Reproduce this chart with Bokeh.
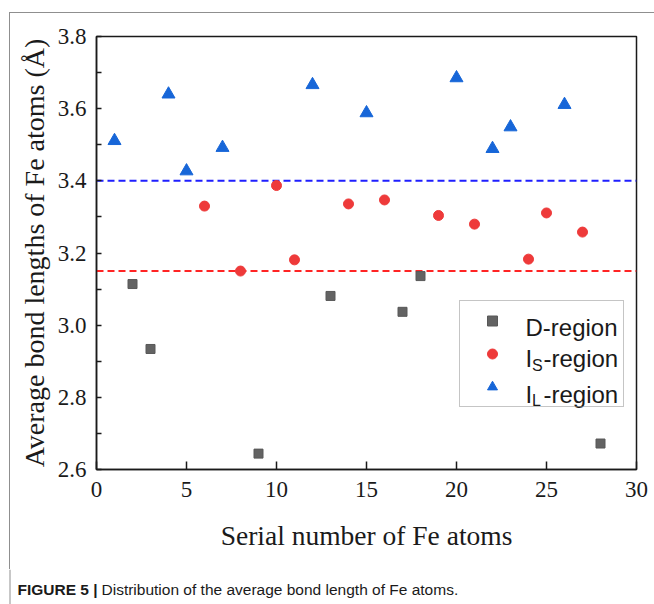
from bokeh.plotting import figure
from bokeh.layouts import column
from bokeh.models import (Span, Legend, LegendItem, Label, FixedTicker,
                          PrintfTickFormatter, Range1d)
from bokeh.core.properties import value
from bokeh.embed import file_html
from bokeh.resources import INLINE

# Average Fe bond lengths (Å) indexed by the serial number of each Fe atom
d_serial = [2, 3, 9, 13, 17, 18, 28]
d_length = [3.114, 2.934, 2.644, 3.081, 3.037, 3.136, 2.672]

is_serial = [6, 8, 10, 11, 14, 16, 19, 21, 24, 25, 27]
is_length = [3.330, 3.150, 3.387, 3.181, 3.336, 3.347, 3.304, 3.280, 3.183, 3.311, 3.258]

il_serial = [1, 4, 5, 7, 12, 15, 20, 22, 23, 26]
il_length = [3.511, 3.640, 3.427, 3.492, 3.666, 3.588, 3.685, 3.489, 3.549, 3.611]

# Region boundaries
is_threshold = 3.15
il_threshold = 3.40

x_ticks = [0, 5, 10, 15, 20, 25, 30]
y_ticks = [2.6, 2.8, 3.0, 3.2, 3.4, 3.6, 3.8]
y_minor = [2.7, 2.9, 3.1, 3.3, 3.5, 3.7]

SERIF = "Liberation Serif"
SANS = "Liberation Sans"
INK = "#1a1a1a"
RULE = "#8f8f8f"

# ---------------------------------------------------------------- chart
p = figure(frame_width=540, frame_height=433,
           min_border_left=96, min_border_right=18,
           min_border_top=36, min_border_bottom=100,
           x_range=Range1d(0, 30), y_range=Range1d(2.6, 3.8),
           output_backend="svg", toolbar_location=None,
           background_fill_color="white", border_fill_color=None)

# thin page rule along the top and left edges
p.styles = {
    "background-image": f"linear-gradient({RULE}, {RULE}), linear-gradient({RULE}, {RULE})",
    "background-position": "9px 12px, 9px 12px",
    "background-size": "1px 100%, 100% 1px",
    "background-repeat": "no-repeat",
    "background-color": "white",
}

p.grid.visible = False
p.outline_line_color = INK
p.outline_line_width = 1.5
p.outline_line_alpha = 1.0

p.xaxis.ticker = FixedTicker(ticks=x_ticks)
p.yaxis.ticker = FixedTicker(ticks=y_ticks, minor_ticks=y_minor)
p.yaxis.formatter = PrintfTickFormatter(format="%.1f")
p.xaxis.axis_label = "Serial number of Fe atoms"
p.yaxis.axis_label = "Average bond lengths of Fe atoms (Å)"

for ax in (p.xaxis[0], p.yaxis[0]):
    ax.axis_line_color = INK
    ax.axis_line_width = 1.5
    ax.major_tick_line_color = INK
    ax.major_tick_line_width = 1.5
    ax.minor_tick_line_color = INK
    ax.minor_tick_line_width = 1.5
    ax.major_tick_out = 0
    ax.minor_tick_out = 0
    ax.major_label_text_font = SERIF
    ax.major_label_text_font_size = "23px"
    ax.major_label_text_color = INK
    ax.axis_label_text_font = SERIF
    ax.axis_label_text_font_style = "normal"
    ax.axis_label_text_color = INK

p.xaxis.axis_label_text_font_size = "27.5px"
p.yaxis.axis_label_text_font_size = "28px"
p.xaxis.major_tick_in = 8
p.xaxis.minor_tick_in = 0
p.xaxis.major_label_standoff = 12
p.xaxis.axis_label_standoff = 20
p.yaxis.major_tick_in = 5
p.yaxis.minor_tick_in = 5
p.yaxis.major_label_standoff = 10
p.yaxis.axis_label_standoff = 5

# Dashed region boundaries, beneath the markers
for loc, col in ((is_threshold, "#ff2424"), (il_threshold, "#1f1fff")):
    p.add_layout(Span(location=loc, dimension="width", line_color=col,
                      line_width=2, line_dash="7 4", level="underlay"))

r_d = p.scatter(d_serial, d_length, marker="square", size=9,
                fill_color="#636363", line_color="#585858")
r_is = p.scatter(is_serial, is_length, marker="circle", size=10,
                 fill_color="#ee3a3a", line_color="#ee3a3a")
r_il = p.scatter(il_serial, il_length, marker="triangle", size=13,
                 fill_color="#1766d8", line_color="#1766d8")

# legend box and swatches; its text (with subscripts) is written separately below
legend = Legend(
    items=[LegendItem(label=value(" "), renderers=[r]) for r in (r_d, r_is, r_il)],
    location=(363, 62), orientation="vertical",
    glyph_width=50, glyph_height=25, label_height=25, label_width=99,
    label_standoff=0, spacing=8, padding=7, margin=0,
    label_text_font_size="10px",
    border_line_color="#8c8c8c", border_line_width=1,
    background_fill_color=None, background_fill_alpha=0.0)
p.add_layout(legend)


def frame_text(fig, txt, x, y, size, font=SANS, style="normal"):
    """Text placed in pixels from the frame's bottom-left corner."""
    fig.add_layout(Label(text=txt, x=x, y=y, x_units="screen", y_units="screen",
                         text_font=font, text_font_size=size, text_font_style=style,
                         text_color=INK, text_baseline="alphabetic", text_align="left",
                         level="overlay"))


# Legend labels with subscripts (frame origin is at 96, 469)
frame_text(p, "D-region", 525 - 96, 469 - 327, "24px")
frame_text(p, "I", 525 - 96, 469 - 358, "24px")
frame_text(p, "S", 531.5 - 96, 469 - 365, "16px")
frame_text(p, "-region", 543 - 96, 469 - 358, "24px")
frame_text(p, "I", 525 - 96, 469 - 394, "24px")
frame_text(p, "L", 531.5 - 96, 469 - 400, "16px")
frame_text(p, "-region", 543 - 96, 469 - 394, "24px")

# ---------------------------------------------------------------- caption strip
cap_h = 604 - 569
cap = figure(width=654, height=cap_h, x_range=Range1d(0, 654), y_range=Range1d(0, cap_h),
             min_border=0, min_border_left=0, min_border_right=0,
             min_border_top=0, min_border_bottom=0,
             x_axis_location=None, y_axis_location=None,
             output_backend="svg", toolbar_location=None,
             background_fill_color="white", border_fill_color="white")
cap.grid.visible = False
cap.outline_line_color = None
cap.add_layout(Span(location=9.5, dimension="height", line_color=RULE, line_width=1))

frame_text(cap, "FIGURE 5 |", 17, 15, "15.5px", style="bold")
frame_text(cap, "Distribution of the average bond length of Fe atoms.", 101, 15, "15.5px")

# keep each plot's frame where its own borders put it
for fig in (p, cap):
    if "frame_align" in fig.properties():
        fig.frame_align = False

page = column(p, cap, spacing=0)
open("out.html", "w").write(file_html(page, INLINE))
